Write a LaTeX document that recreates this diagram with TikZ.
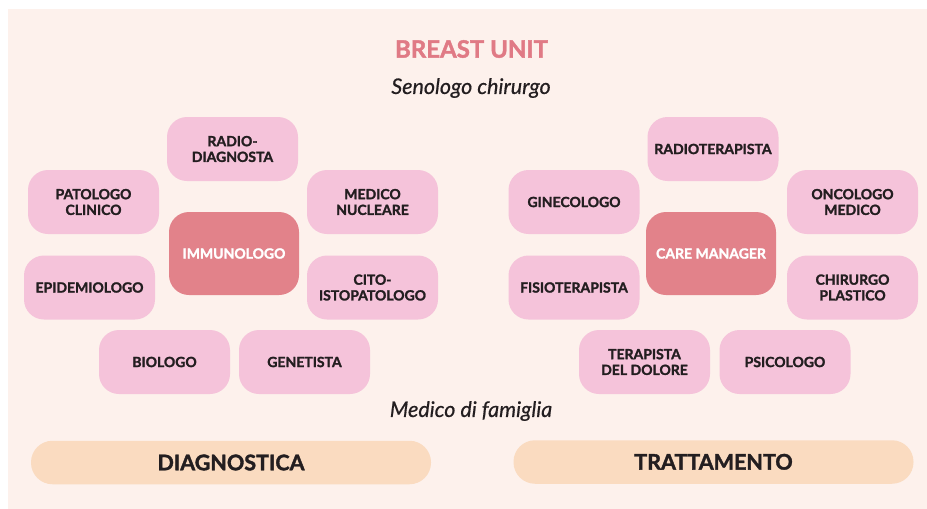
\documentclass[tikz,border=0pt]{standalone}
\usepackage{fontspec}
\setmainfont{Lato}[BoldFeatures={FakeBold=1.7},ItalicFeatures={FakeBold=0.6}]
\definecolor{bgc}{HTML}{FDF1EC}
\definecolor{pinkbox}{HTML}{F5C3DA}
\definecolor{redbox}{HTML}{E2828A}
\definecolor{barc}{HTML}{FADBC0}
\definecolor{titlec}{HTML}{E07A85}
\definecolor{txt}{HTML}{231E20}
\begin{document}
\begin{tikzpicture}[x=1pt,y=-1pt,
  role/.style={fill=pinkbox, rounded corners=20pt, minimum width=131pt, minimum height=64pt,
    inner sep=0pt, align=center, text=txt, font=\fontsize{14}{15.7}\selectfont\bfseries},
  hub/.style={fill=redbox, rounded corners=20pt, minimum width=130pt, minimum height=83pt,
    inner sep=0pt, align=center, text=white, font=\fontsize{14}{15.7}\selectfont\bfseries},
  bar/.style={fill=barc, rounded corners=21.5pt, minimum width=400pt, minimum height=43.5pt,
    inner sep=0pt, text=txt, font=\fontsize{21.5}{24}\selectfont\bfseries},
  label/.style={inner sep=0pt, text=txt, font=\fontsize{21.5}{24}\selectfont\itshape}]
\useasboundingbox (0,0) rectangle (927,509);
\fill[bgc] (8,9) rectangle (927,509);
\node[inner sep=0pt, text=titlec, font=\fontsize{24}{28}\selectfont\bfseries] (title) at (471.5,49) {BREAST UNIT};
\node[label] (seno) at (471,88) {Senologo chirurgo};
\node[label] (medfam) at (471,411) {Medico di famiglia};
% left cluster
\node[role] (radiod) at (232.5,149) {RADIO-\\DIAGNOSTA};
\node[role] (patol) at (93.5,202) {PATOLOGO\\CLINICO};
\node[role] (mednuc) at (372.5,202) {MEDICO\\NUCLEARE};
\node[hub] (immuno) at (234,253.5) {IMMUNOLOGO};
\node[role] (epid) at (89.5,287.5) {EPIDEMIOLOGO};
\node[role] (cito) at (372.5,287.5) {CITO-\\ISTOPATOLOGO};
\node[role] (bio) at (164.5,362) {BIOLOGO};
\node[role] (gen) at (304.5,362) {GENETISTA};
% right cluster
\node[role] (radiot) at (713,149) {RADIOTERAPISTA};
\node[role] (gine) at (574,202) {GINECOLOGO};
\node[role] (onco) at (852.5,202) {ONCOLOGO\\MEDICO};
\node[hub] (care) at (711,253.5) {CARE MANAGER};
\node[role] (fisio) at (574,287.5) {FISIOTERAPISTA};
\node[role] (chir) at (852.5,287.5) {CHIRURGO\\PLASTICO};
\node[role] (terap) at (644.5,362) {TERAPISTA\\DEL DOLORE};
\node[role] (psico) at (785,362) {PSICOLOGO};
% bars
\node[bar] (diag) at (231,462.5) {\raisebox{-4.5pt}{DIAGNOSTICA}};
\node[bar] (tratt) at (713.5,462) {\raisebox{0.5pt}{TRATTAMENTO}};
\end{tikzpicture}
\end{document}
